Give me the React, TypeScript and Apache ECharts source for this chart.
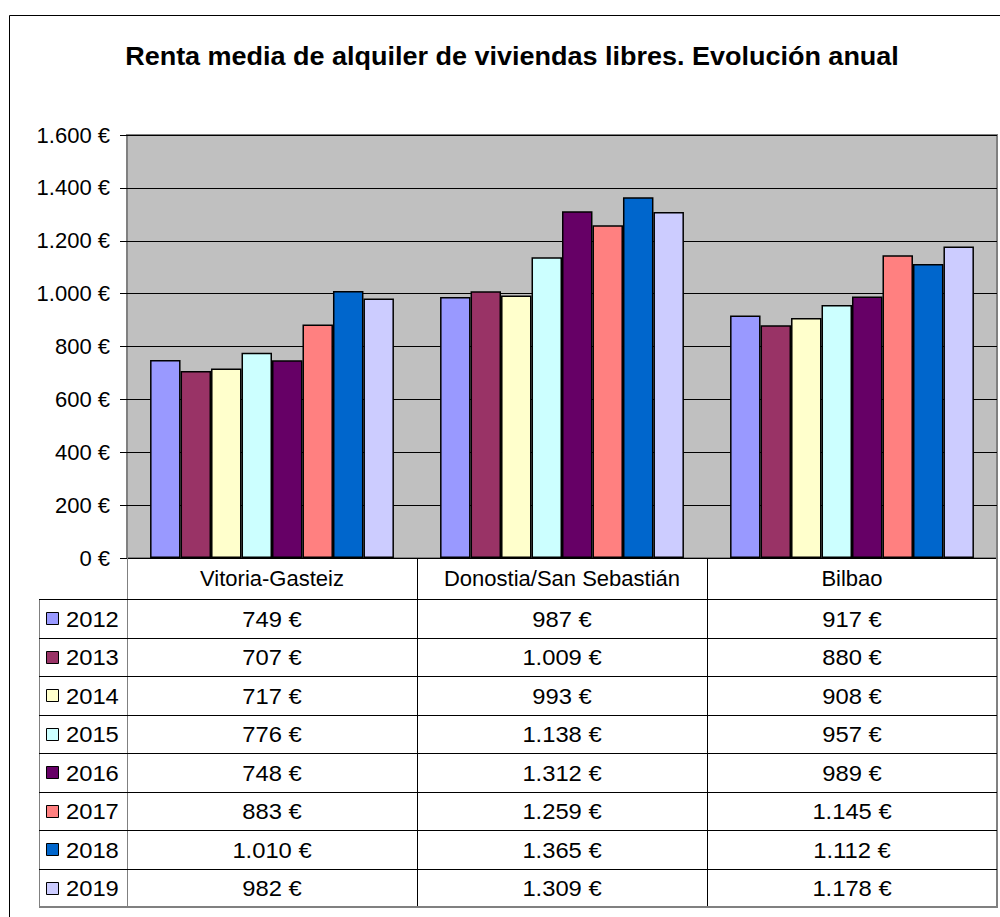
import React, { useEffect, useRef } from "react";
import * as echarts from "echarts";

const categories = ["Vitoria-Gasteiz", "Donostia/San Sebastián", "Bilbao"];
const years = ["2012", "2013", "2014", "2015", "2016", "2017", "2018", "2019"];
const v2012 = [749, 987, 917];
const v2013 = [707, 1009, 880];
const v2014 = [717, 993, 908];
const v2015 = [776, 1138, 957];
const v2016 = [748, 1312, 989];
const v2017 = [883, 1259, 1145];
const v2018 = [1010, 1365, 1112];
const v2019 = [982, 1309, 1178];
const seriesValues = [v2012, v2013, v2014, v2015, v2016, v2017, v2018, v2019];
const colors = ["#9999FF", "#993366", "#FFFFCC", "#CCFFFF", "#660066", "#FF8080", "#0066CC", "#CCCCFF"];
const yTicks = { min: 0, max: 1600, interval: 200 };
const title = "Renta media de alquiler de viviendas libres. Evolución anual";

const fmt = (v: number) => String(v).replace(/\B(?=(\d{3})+(?!\d))/g, ".") + " €";

const FONT = "'Liberation Sans', Arial, sans-serif";

export default function App() {
  const ref = useRef<HTMLDivElement>(null);
  useEffect(() => {
    if (!ref.current) return;
    const chart = echarts.init(ref.current, null, { renderer: "svg" });

    const plotL = 127, plotR = 997, plotT = 135, plotB = 558;
    const tableLeft = 39, headerBottom = 599, rowH = 38.5, tableBottom = 907;
    const catW = (plotR - plotL) / categories.length;
    const sx = 1.08;

    const graphic: any[] = [];
    const line = (x1: number, y1: number, x2: number, y2: number, stroke: string, w = 1) =>
      graphic.push({ type: "line", silent: true, z: 10, shape: { x1, y1, x2, y2 }, style: { stroke, lineWidth: w } });

    // outer chart border
    graphic.push({ type: "rect", silent: true, z: -10, shape: { x: 9.5, y: 15.5, width: 1200, height: 1200 }, style: { fill: "#fff", stroke: "#000", lineWidth: 1 } });
    // title
    graphic.push({
      type: "text", silent: true, z: 10, x: 512, y: 56, scaleX: 1.08,
      style: { text: title, font: `bold 25px ${FONT}`, fill: "#000", align: "center", verticalAlign: "middle" },
    });
    // table vertical lines
    line(plotL + 0.5, plotB, plotL + 0.5, tableBottom, "#808080", 1);
    for (let i = 1; i < categories.length; i++) {
      const x = Math.round(plotL + catW * i) + 0.5;
      line(x, plotB, x, tableBottom, "#000", 1);
    }
    line(plotR, plotB, plotR, tableBottom + 1, "#808080", 2);
    line(tableLeft + 0.5, headerBottom, tableLeft + 0.5, tableBottom, "#808080", 1);
    // horizontal lines
    for (let k = 0; k < years.length; k++) {
      const y = Math.round(headerBottom + rowH * k) + 0.5;
      line(tableLeft, y, plotR, y, "#000", 1);
    }
    line(tableLeft, tableBottom, plotR, tableBottom, "#808080", 2);

    // table cells
    years.forEach((yr, k) => {
      const cy = headerBottom + rowH * k + rowH / 2;
      graphic.push({
        type: "rect", silent: true, z: 11,
        shape: { x: 46.5, y: Math.round(cy - 6) + 0.5, width: 12, height: 12 },
        style: { fill: colors[k], stroke: "#000", lineWidth: 1 },
      });
      graphic.push({
        type: "text", silent: true, z: 11, x: 66, y: cy + 1, scaleX: sx,
        style: { text: yr, font: `22px ${FONT}`, fill: "#000", align: "left", verticalAlign: "middle" },
      });
      categories.forEach((_, c) => {
        graphic.push({
          type: "text", silent: true, z: 11, x: plotL + catW * (c + 0.5), y: cy + 1, scaleX: sx,
          style: { text: fmt(seriesValues[k][c]), font: `22px ${FONT}`, fill: "#000", align: "center", verticalAlign: "middle" },
        });
      });
    });

    chart.setOption({
      animation: false,
      backgroundColor: "transparent",
      grid: {
        left: plotL, top: plotT, width: plotR - plotL, height: plotB - plotT,
        show: true, backgroundColor: "#C0C0C0", borderColor: "#808080", borderWidth: 2,
      },
      xAxis: {
        type: "category",
        data: categories,
        axisLine: { show: true, lineStyle: { color: "#000", width: 1 } },
        axisTick: { show: false },
        axisLabel: { color: "#000", fontSize: 22, fontFamily: FONT, margin: 9, interval: 0 },
      },
      yAxis: {
        type: "value",
        min: yTicks.min, max: yTicks.max, interval: yTicks.interval,
        axisLine: { show: false },
        axisTick: { show: true, length: 7, lineStyle: { color: "#000" } },
        axisLabel: { color: "#000", fontSize: 22, fontFamily: FONT, margin: 17, formatter: (v: number) => fmt(v) },
        splitLine: { show: true, lineStyle: { color: "#000", width: 1 } },
      },
      series: years.map((yr, k) => ({
        name: yr,
        type: "bar",
        data: seriesValues[k],
        barGap: "0%",
        barCategoryGap: "15.9%",
        itemStyle: { color: colors[k], borderColor: "#000", borderWidth: 1.5 },
      })),
      graphic,
    });
    return () => chart.dispose();
  }, []);
  return <div ref={ref} style={{ position: "absolute", left: 0, top: 0, width: 1000, height: 917 }} />;
}
